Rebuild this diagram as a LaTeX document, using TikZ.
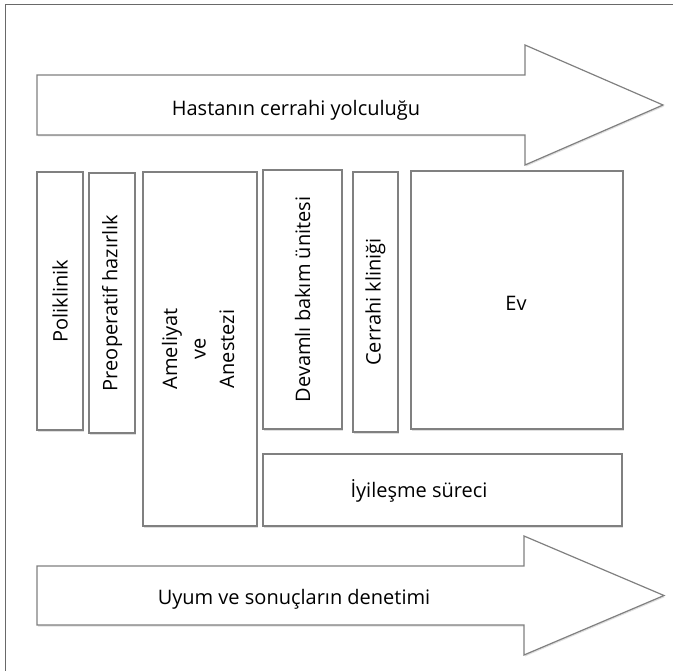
\documentclass[tikz,border=0pt]{standalone}
\usepackage{fontspec}
\setmainfont{Open Sans}
\usetikzlibrary{positioning,shadows}
\definecolor{linegray}{RGB}{128,128,128}
\definecolor{framegray}{RGB}{105,105,105}

\begin{document}
\begin{tikzpicture}[x=1pt,y=-1pt,
        box/.style={draw=linegray, line width=1.2pt, fill=white, inner sep=0pt,
          drop shadow={shadow xshift=1pt, shadow yshift=-1.5pt, opacity=0.25}},
        lbl/.style={font=\fontsize{20}{28.5}\selectfont, inner sep=0pt}
      ]
        \useasboundingbox (0,0) rectangle (677,671);
        % frame
        \coordinate (fbl) at (5,671);
        \coordinate (ftl) at (5,5);
        \coordinate (ftr) at (673,5);
        \draw[framegray, line width=1pt] (fbl) -- (ftl) -- (ftr);

        % top arrow
        \draw[box] (37,75) -- (525,75) -- (525,45) -- (663,105) -- (525,165) -- (525,135) -- (37,135) -- cycle;
        \node[lbl, anchor=base] (journey) at (296,116) {Hastanın cerrahi yolculuğu};

        % stages
        \node[box, lbl, minimum width=46pt, minimum height=258pt] (polik) at (60,301) {\rotatebox{90}{Poliklinik}};
        \node[box, lbl, minimum width=46pt, minimum height=260pt] (preop) at (112,303) {\rotatebox{90}{Preoperatif hazırlık}};
        \node[box, lbl, minimum width=114pt, minimum height=354pt] (surg) at (200,349)
          {\rotatebox{90}{\begin{tabular}{@{}c@{}}Ameliyat\\ve\\Anestezi\end{tabular}}};
        \node[box, lbl, minimum width=79pt, minimum height=259pt] (icu) at (302.5,299.5) {\rotatebox{90}{Devamlı bakım ünitesi}};
        \node[box, lbl, minimum width=45pt, minimum height=260pt] (ward) at (375.5,302) {\rotatebox{90}{Cerrahi kliniği}};
        \node[box, minimum width=212pt, minimum height=258pt] (home) at (517,300) {};
        \node[lbl, anchor=base] (homet) at (516,310) {Ev};
        \node[box, minimum width=359pt, minimum height=72pt] (recov) at (442.5,490) {};
        \node[lbl, anchor=base] (recovt) at (419,497) {İyileşme süreci};

        % bottom arrow
        \draw[box] (37,566) -- (524,566) -- (524,536) -- (664,595.5) -- (524,655) -- (524,625) -- (37,625) -- cycle;
        \node[lbl, anchor=base] (audit) at (294,604) {Uyum ve sonuçların denetimi};
      \end{tikzpicture}
\end{document}
